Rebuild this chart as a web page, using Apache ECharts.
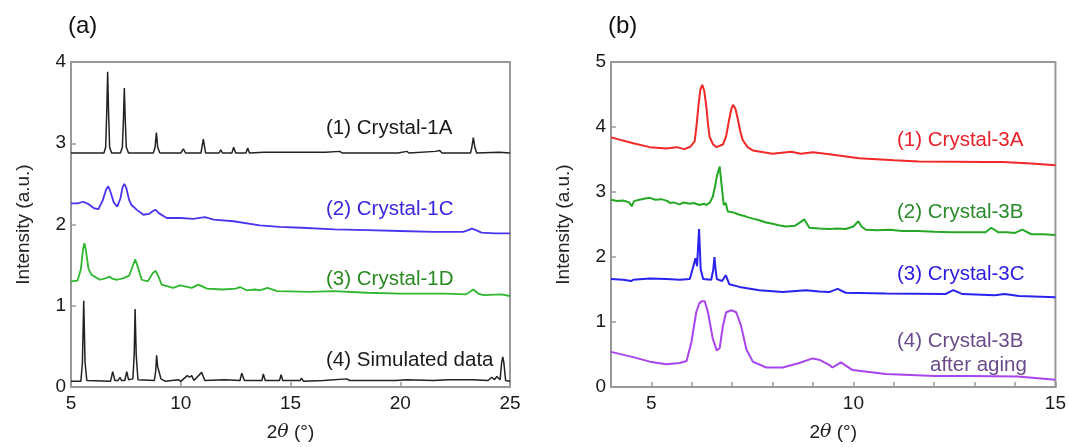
<!DOCTYPE html>
<html>
<head>
<meta charset="utf-8">
<script src="https://cdn.jsdelivr.net/npm/echarts@6/dist/echarts.min.js"></script>
<style>
  html, body { margin: 0; padding: 0; background: #fff; }
  #chart { width: 1069px; height: 447px; }
</style>
</head>
<body>
<div id="chart"></div>
<script>
// panel (a) 2θ 5-25
const xTicksA = [5, 10, 15, 20, 25]
const yTicksA = [0, 1, 2, 3, 4]
const crystal1A = [[5.0,2.88],[5.8,2.88],[5.87,2.90],[5.95,2.88],[6.5,2.88],[6.58,2.95],[6.63,3.4],[6.67,3.88],[6.71,3.4],[6.76,2.95],[6.85,2.88],
  [7.25,2.88],[7.34,2.95],[7.39,3.3],[7.43,3.68],[7.47,3.3],[7.52,2.95],[7.62,2.88],[8.75,2.88],[8.83,2.95],[8.89,3.13],[8.95,2.95],[9.05,2.88],
  [10.0,2.88],[10.12,2.93],[10.22,2.88],[10.92,2.88],[11.03,3.05],[11.13,2.88],[11.75,2.88],[11.82,2.92],[11.9,2.88],[12.33,2.88],[12.41,2.95],[12.5,2.88],
  [12.97,2.88],[13.05,2.94],[13.13,2.88],[13.8,2.89],[14.9,2.89],[15.3,2.89],[16.6,2.89],[17.25,2.90],[17.35,2.88],[19.9,2.88],[20.3,2.90],[20.4,2.88],
  [21.6,2.9],[21.8,2.91],[21.9,2.88],[23.2,2.88],[23.26,2.95],[23.33,3.07],[23.4,2.95],[23.48,2.88],[24.5,2.89],[25,2.88]]
const crystal1C = [[5.0,2.26],[5.3,2.26],[5.56,2.28],[5.8,2.25],[6.05,2.2],[6.25,2.19],[6.45,2.3],[6.6,2.43],[6.7,2.47],[6.8,2.4],[6.95,2.27],[7.11,2.22],
  [7.25,2.32],[7.35,2.46],[7.43,2.50],[7.52,2.45],[7.65,2.3],[7.76,2.24],[8.0,2.18],[8.3,2.12],[8.55,2.13],[8.75,2.17],[8.86,2.18],[9.0,2.14],[9.36,2.08],
  [10.0,2.08],[10.57,2.07],[11.1,2.09],[11.5,2.06],[12.4,2.04],[13.6,1.99],[14.5,1.97],[15.5,1.96],[17,1.94],[18.5,1.93],[20,1.92],[21.5,1.91],[22.86,1.91],
  [23.1,1.93],[23.26,1.95],[23.45,1.93],[23.7,1.90],[24.3,1.89],[25,1.89]]
const crystal1D = [[5.0,1.30],[5.3,1.31],[5.45,1.45],[5.55,1.70],[5.61,1.77],[5.68,1.68],[5.8,1.45],[5.94,1.38],[6.32,1.32],[6.6,1.34],[6.75,1.36],[6.9,1.33],
  [7.1,1.32],[7.4,1.34],[7.65,1.37],[7.8,1.48],[7.92,1.57],[8.02,1.50],[8.22,1.32],[8.5,1.30],[8.72,1.40],[8.86,1.43],[9.0,1.35],[9.13,1.26],[9.65,1.22],
  [9.97,1.25],[10.5,1.22],[10.8,1.26],[11.2,1.21],[11.9,1.20],[12.5,1.21],[12.7,1.23],[13.0,1.19],[13.4,1.20],[13.6,1.19],[13.95,1.22],[14.4,1.18],[15.9,1.17],
  [16.95,1.18],[18.5,1.16],[20,1.15],[22.0,1.15],[23.0,1.14],[23.33,1.20],[23.55,1.15],[23.8,1.13],[24.6,1.14],[25,1.12]]
const simulated = [[5.0,0.07],[5.45,0.07],[5.52,0.3],[5.58,1.06],[5.64,0.3],[5.72,0.08],[6.8,0.07],[6.9,0.19],[7.0,0.08],[7.15,0.08],[7.23,0.12],[7.3,0.08],
  [7.45,0.08],[7.54,0.19],[7.62,0.09],[7.82,0.1],[7.88,0.4],[7.92,0.96],[7.97,0.4],[8.05,0.09],[8.8,0.08],[8.86,0.2],[8.9,0.39],[8.95,0.25],[9.03,0.24],
  [9.1,0.1],[9.3,0.07],[9.89,0.09],[10.0,0.07],[10.3,0.14],[10.4,0.12],[10.5,0.14],[10.6,0.08],[10.95,0.18],[11.1,0.08],[12.0,0.09],[12.7,0.08],[12.78,0.17],
  [12.9,0.08],[13.7,0.08],[13.76,0.16],[13.85,0.08],[14.5,0.08],[14.57,0.15],[14.65,0.08],[15.45,0.08],[15.5,0.11],[15.6,0.07],[16.5,0.08],[17.56,0.1],[17.7,0.08],
  [18.5,0.08],[19.8,0.08],[20.3,0.09],[21.5,0.08],[22.2,0.09],[23.3,0.09],[24.0,0.08],[24.17,0.12],[24.3,0.09],[24.4,0.13],[24.55,0.09],[24.62,0.3],
  [24.67,0.37],[24.72,0.3],[24.8,0.08],[25,0.07]]

// panel (b) 2θ 4-15
const xTicksB = [5, 10, 15]
const yTicksB = [0, 1, 2, 3, 4, 5]
const crystal3A = [[4.0,3.84],[4.55,3.75],[4.96,3.69],[5.37,3.67],[5.62,3.69],[5.82,3.66],[5.97,3.70],[6.07,3.78],[6.11,3.98],[6.16,4.3],[6.21,4.57],
  [6.26,4.65],[6.31,4.55],[6.36,4.31],[6.40,4.05],[6.44,3.85],[6.52,3.74],[6.61,3.69],[6.77,3.73],[6.85,3.86],[6.92,4.1],[6.98,4.28],[7.02,4.34],[7.08,4.28],
  [7.14,4.12],[7.2,3.93],[7.26,3.80],[7.38,3.69],[7.51,3.64],[8.0,3.59],[8.46,3.62],[8.7,3.59],[9.0,3.61],[9.4,3.58],[10.14,3.52],[11.0,3.49],[11.62,3.47],
  [13.27,3.46],[13.7,3.46],[14.4,3.44],[15.0,3.41]]
const crystal3B = [[4.0,2.88],[4.15,2.86],[4.3,2.87],[4.45,2.84],[4.51,2.78],[4.57,2.86],[4.7,2.88],[4.85,2.90],[4.96,2.91],[5.1,2.88],[5.25,2.89],
  [5.4,2.86],[5.46,2.83],[5.55,2.84],[5.70,2.81],[5.8,2.84],[5.95,2.82],[6.05,2.83],[6.19,2.80],[6.3,2.82],[6.36,2.80],[6.45,2.84],[6.52,2.93],[6.58,3.1],
  [6.62,3.24],[6.69,3.39],[6.74,3.09],[6.79,2.80],[6.84,2.83],[6.89,2.70],[7.0,2.69],[7.18,2.65],[7.3,2.63],[7.4,2.61],[7.51,2.59],[7.65,2.57],[7.84,2.53],
  [8.0,2.51],[8.15,2.49],[8.33,2.47],[8.55,2.48],[8.7,2.54],[8.78,2.58],[8.86,2.50],[8.91,2.45],[9.15,2.44],[9.40,2.43],[9.6,2.44],[9.81,2.43],[10.0,2.47],
  [10.12,2.55],[10.2,2.47],[10.31,2.42],[10.6,2.41],[10.9,2.42],[11.21,2.40],[11.6,2.40],[12.0,2.39],[12.44,2.38],[12.9,2.38],[13.27,2.38],[13.41,2.45],
  [13.59,2.38],[13.8,2.38],[14.0,2.37],[14.18,2.42],[14.4,2.35],[14.7,2.35],[15.0,2.34]]
const crystal3C = [[4.0,1.66],[4.3,1.65],[4.5,1.63],[4.55,1.65],[4.96,1.67],[5.37,1.66],[5.70,1.65],[5.95,1.66],[6.03,1.84],[6.09,1.98],[6.13,1.86],
  [6.18,2.43],[6.22,1.81],[6.28,1.66],[6.48,1.65],[6.53,1.80],[6.56,2.00],[6.59,1.80],[6.62,1.66],[6.75,1.63],[6.84,1.72],[6.93,1.58],[7.18,1.54],
  [7.67,1.49],[8.25,1.46],[8.83,1.49],[9.15,1.47],[9.4,1.46],[9.61,1.51],[9.81,1.45],[10.8,1.44],[12.28,1.43],[12.47,1.49],[12.7,1.43],[13.5,1.41],
  [13.74,1.43],[14.1,1.40],[15.0,1.38]]
const crystal3Baged = [[4.0,0.54],[4.55,0.46],[4.96,0.39],[5.37,0.35],[5.70,0.37],[5.87,0.40],[5.99,0.69],[6.11,1.15],[6.18,1.28],[6.24,1.32],[6.32,1.32],
  [6.40,1.15],[6.52,0.74],[6.62,0.56],[6.69,0.60],[6.77,0.94],[6.85,1.15],[6.98,1.18],[7.10,1.15],[7.22,0.94],[7.35,0.58],[7.51,0.39],[7.84,0.30],
  [8.25,0.30],[8.66,0.37],[8.99,0.44],[9.15,0.42],[9.40,0.34],[9.48,0.30],[9.69,0.38],[9.98,0.26],[10.8,0.20],[12.03,0.17],[12.85,0.17],[14.06,0.16],
  [15.0,0.11]]

const chart = echarts.init(document.getElementById('chart'))

const FONT = '"Liberation Sans", Arial, sans-serif'
const frame = '#999'

// 坐标轴样式
const xAxisBase = (gridIndex, min, max, interval, labels) => ({
  type: 'value', gridIndex, min, max, interval,
  name: '{n|2}{i|θ}{n| (°)}', nameLocation: 'middle', nameGap: 36,
  nameTextStyle: { rich: { n: { fontSize: 19, fontFamily: FONT, color: '#222' }, i: { fontSize: 19, fontFamily: 'DejaVu Serif', fontStyle: 'italic', color: '#222' } } },
  axisLine: { show: true, lineStyle: { color: frame, width: 2 } },
  axisTick: { show: true, inside: true, length: 5, lineStyle: { color: frame, width: 1.5 } },
  axisLabel: { margin: 7, fontSize: 19, fontFamily: FONT, color: '#1a1a1a', formatter: v => labels.includes(v) ? String(v) : '' },
  splitLine: { show: false }
})
const yAxisBase = (gridIndex, min, max, labels) => ({
  type: 'value', gridIndex, min, max, interval: 1,
  name: 'Intensity (a.u.)', nameLocation: 'middle', nameGap: 38,
  nameTextStyle: { fontSize: 19, fontFamily: FONT, color: '#222' },
  axisLine: { show: true, lineStyle: { color: frame, width: 2 } },
  axisTick: { show: true, inside: true, length: 5, lineStyle: { color: frame, width: 1.5 } },
  axisLabel: { margin: 5, fontSize: 19, fontFamily: FONT, color: '#1a1a1a', formatter: v => labels.includes(v) ? String(v) : '' },
  splitLine: { show: false }
})

const line = (name, data, color, xi, w) => ({
  name, type: 'line', data, xAxisIndex: xi, yAxisIndex: xi,
  showSymbol: false, symbol: 'none', silent: true,
  lineStyle: { color, width: w }
})

const label = (text, x, y, color, size) => ({
  type: 'text', left: x, top: y,
  style: { text, fill: color, font: `${size || 20.5}px ${FONT}` }
})

chart.setOption({
  animation: false,
  backgroundColor: '#fff',
  grid: [
    { left: 71, right: 559, top: 62, bottom: 59, show: true, borderColor: frame, borderWidth: 2 },
    { left: 611, right: 12, top: 62, bottom: 60, show: true, borderColor: frame, borderWidth: 2 }
  ],
  xAxis: [
    xAxisBase(0, 5, 25, 5, xTicksA),
    xAxisBase(1, 4, 15, 1, xTicksB)
  ],
  yAxis: [
    yAxisBase(0, 0, 4, yTicksA),
    yAxisBase(1, 0, 5, yTicksB)
  ],
  series: [
    line('(1) Crystal-1A', crystal1A, '#222', 0, 1.5),
    line('(2) Crystal-1C', crystal1C, '#4a35ee', 0, 1.8),
    line('(3) Crystal-1D', crystal1D, '#2fb82f', 0, 1.8),
    line('(4) Simulated data', simulated, '#222', 0, 1.5),
    line('(1) Crystal-3A', crystal3A, '#f02828', 1, 2),
    line('(2) Crystal-3B', crystal3B, '#25a825', 1, 2),
    line('(3) Crystal-3C', crystal3C, '#2a22ee', 1, 2),
    line('(4) Crystal-3B after aging', crystal3Baged, '#a845ee', 1, 2)
  ],
  graphic: [
    label('(a)', 68, 14, '#111', 24),
    label('(b)', 608, 14, '#111', 24),
    label('(1) Crystal-1A', 326, 118, '#1a1a1a'),
    label('(2) Crystal-1C', 326, 199, '#3a26e0'),
    label('(3) Crystal-1D', 326, 269, '#2a8a22'),
    label('(4) Simulated data', 326, 350, '#1a1a1a'),
    label('(1) Crystal-3A', 897, 130, '#e8202a'),
    label('(2) Crystal-3B', 897, 202, '#2a8a2a'),
    label('(3) Crystal-3C', 897, 264, '#2a1ae0'),
    label('(4) Crystal-3B', 897, 331, '#6a4a8a'),
    label('after aging', 930, 355, '#6a4a8a')
  ]
})

window.addEventListener('resize', () => chart.resize())
</script>
</body>
</html>
